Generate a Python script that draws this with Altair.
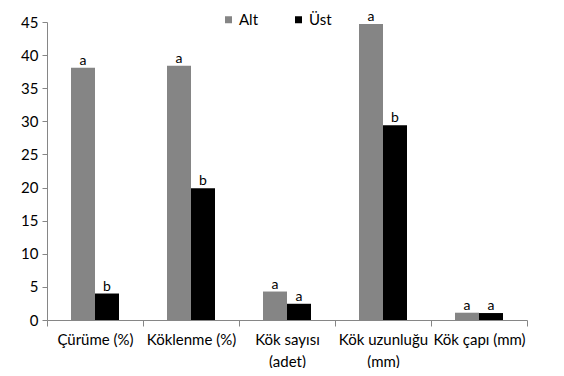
import altair as alt
import pandas as pd

categories = ["Çürüme (%)", "Köklenme (%)", "Kök sayısı|(adet)", "Kök uzunluğu|(mm)", "Kök çapı (mm)"]
series = ["Alt", "Üst"]
alt_values = [38.1, 38.4, 4.3, 44.7, 1.1]
ust_values = [4.0, 19.9, 2.45, 29.4, 1.05]
alt_letters = ["a", "a", "a", "a", "a"]
ust_letters = ["b", "b", "a", "b", "a"]

rows = []
for c, v, l in zip(categories, alt_values, alt_letters):
    rows.append({"cat": c, "series": "Alt", "value": v, "letter": l})
for c, v, l in zip(categories, ust_values, ust_letters):
    rows.append({"cat": c, "series": "Üst", "value": v, "letter": l})
df = pd.DataFrame(rows)

FONT = "Lato"

x_enc = alt.X(
    "cat:N",
    sort=categories,
    scale=alt.Scale(paddingInner=0, paddingOuter=0),
    axis=alt.Axis(
        title=None,
        labelAngle=0,
        tickBand="extent",
        labelExpr="split(datum.label, '|')",
        labelLineHeight=22,
        labelPadding=6,
        labelFontSize=15,
        labelColor="#000000",
        labelFont=FONT,
        domainColor="#868686",
        tickColor="#868686",
        tickSize=6,
        grid=False,
    ),
)
xo_enc = alt.XOffset("series:N", sort=series, scale=alt.Scale(paddingInner=0, paddingOuter=1))
y_enc = alt.Y(
    "value:Q",
    scale=alt.Scale(domain=[0, 45], nice=False),
    axis=alt.Axis(
        title=None,
        values=list(range(0, 50, 5)),
        grid=False,
        domainColor="#868686",
        tickColor="#868686",
        tickSize=5,
        labelPadding=4,
        labelFontSize=15,
        labelColor="#000000",
        labelFont=FONT,
    ),
)

base = alt.Chart(df).encode(x=x_enc, xOffset=xo_enc, y=y_enc)

bars = base.mark_bar().encode(
    color=alt.Color(
        "series:N",
        sort=series,
        scale=alt.Scale(domain=series, range=["#858585", "#000000"]),
        legend=alt.Legend(
            title=None,
            orient="none",
            direction="horizontal",
            legendX=174,
            legendY=-10,
            symbolType="square",
            symbolSize=49,
            symbolStrokeWidth=0,
            labelFontSize=15,
            labelFont=FONT,
            labelColor="#000000",
            labelOffset=3,
            columnPadding=32,
        ),
    )
)

text = base.mark_text(baseline="alphabetic", dy=-3, fontSize=14, font=FONT, color="#000000").encode(
    text="letter:N"
)

chart = (
    alt.layer(bars, text)
    .properties(
        width=480,
        height=298,
        autosize=alt.AutoSizeParams(type="none"),
        padding={"left": 39, "top": 14, "right": 29, "bottom": 48},
    )
    .configure_view(stroke=None)
)

chart.save("out.html", embed_options={"renderer": "svg", "actions": False})
